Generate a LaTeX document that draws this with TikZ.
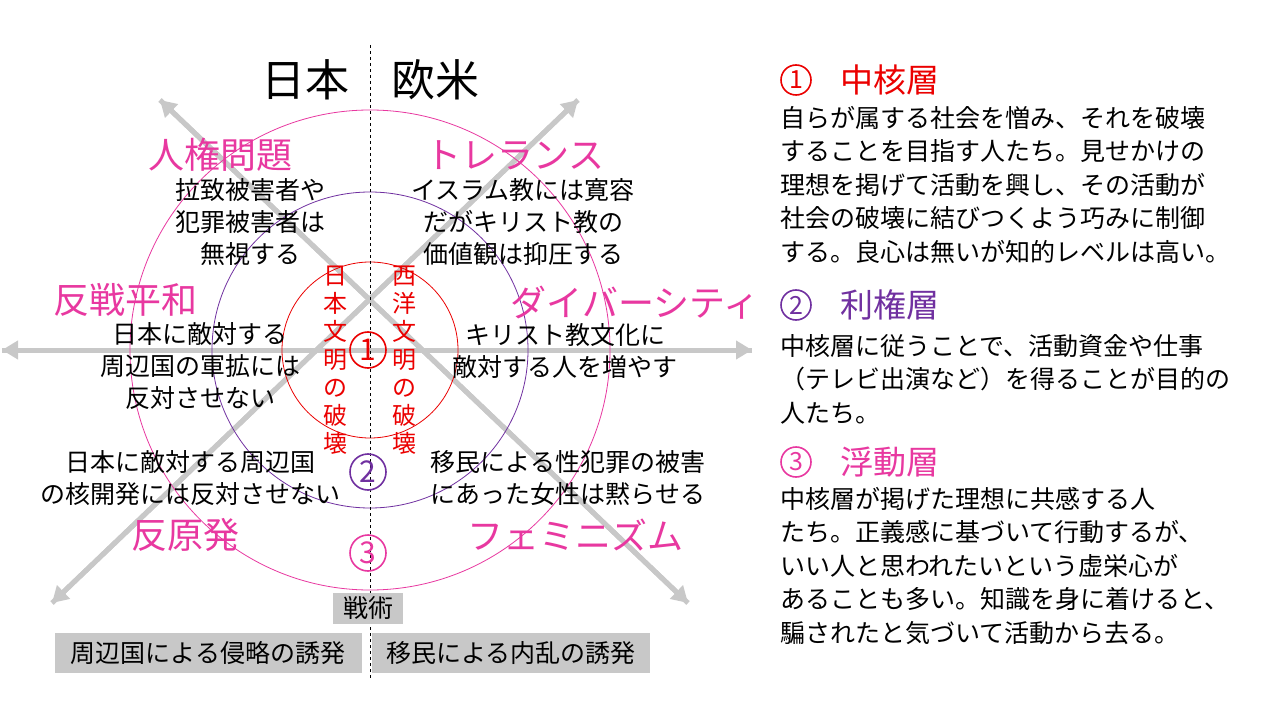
\documentclass[tikz,border=0pt]{standalone}
\usepackage{fontspec}
\setmainfont{Noto Sans CJK JP}
\usetikzlibrary{arrows.meta}
\definecolor{pk}{RGB}{232,56,160}
\definecolor{pu}{RGB}{112,48,160}
\definecolor{rd}{RGB}{235,0,0}
\definecolor{gr}{RGB}{200,200,200}
\tikzset{
 fs/.style 2 args={font=\fontsize{#1}{#2}\selectfont},
 arr/.style={draw=gr,line width=5pt,-{Triangle[length=16pt,width=18pt]}},
 hd/.style={pk,fs={36}{36},inner sep=0},
 bt/.style={fs={25}{32},align=center,inner sep=0,text=black},
 rt/.style={fs={25}{33.5},align=left,anchor=north west,inner sep=0},
 vt/.style={rd,fs={24}{28},align=center,inner sep=0},
 gbox/.style={fill=gr,fs={25}{25},inner sep=0},
 cnum/.style={circle,draw=#1,text=#1,line width=1.6pt,minimum size=36pt,inner sep=0,fs={30}{30}},
 rh/.style={fs={33}{33},anchor=west,inner sep=0},
}
\begin{document}
\begin{tikzpicture}[x=1pt,y=-1pt]
\useasboundingbox (0,0) rectangle (1268,703);
\fill[white] (0,0) rectangle (1268,703);
\coordinate (c) at (370,350);
\coordinate (tl) at (160,100);
\coordinate (tr) at (578,100);
\coordinate (bl) at (52,603);
\coordinate (br) at (688,603);
\coordinate (l) at (2,350);
\coordinate (r) at (752,350);
\draw[arr] (bl) -- (tr);
\draw[arr] (br) -- (tl);
\draw[arr] (l) -- (r);
\draw[arr] (r) -- (l);
\draw[arr] (tr) -- (bl);
\draw[arr] (tl) -- (br);
\draw[pk,line width=0.8pt] (c) circle[radius=240];
\draw[pu,line width=0.8pt] (c) circle[radius=158];
\draw[rd,line width=0.8pt] (c) circle[radius=88];
\draw[dashed,line width=0.8pt] (370,45) -- (370,680);
\node[fs={44}{44},inner sep=0] (jp) at (305,80) {日本};
\node[fs={44}{44},inner sep=0] (ow) at (435,80) {欧米};
\node[hd] (h1) at (220,155) {人権問題};
\node[hd] (h2) at (515,155) {トレランス};
\node[hd] (h3) at (125,300) {反戦平和};
\node[hd] (h4) at (635,303) {ダイバーシティ};
\node[hd] (h5) at (185,535) {反原発};
\node[hd] (h6) at (575,535) {フェミニズム};
\node[bt] (t1) at (250,222) {拉致被害者や\\犯罪被害者は\\無視する};
\node[bt] (t2) at (523,222) {イスラム教には寛容\\だがキリスト教の\\価値観は抑圧する};
\node[bt] (t3) at (200,366) {日本に敵対する\\周辺国の軍拡には\\反対させない};
\node[bt] (t4) at (565,351) {キリスト教文化に\\敵対する人を増やす};
\node[bt] (t5) at (190,478) {日本に敵対する周辺国\\の核開発には反対させない};
\node[bt] (t6) at (568,478) {移民による性犯罪の被害\\にあった女性は黙らせる};
\node[vt] (v1) at (335,360) {日\\本\\文\\明\\の\\破\\壊};
\node[vt] (v2) at (404,360) {西\\洋\\文\\明\\の\\破\\壊};
\node[cnum=rd] (n1) at (368,350) {1};
\node[cnum=pu] (n2) at (368,472) {2};
\node[cnum=pk] (n3) at (368,553) {3};
\node[gbox,minimum width=70,minimum height=31] (s) at (368,608) {戦術};
\node[gbox,minimum width=307,minimum height=40] (b1) at (208,653) {周辺国による侵略の誘発};
\node[gbox,minimum width=278,minimum height=40] (b2) at (511,653) {移民による内乱の誘発};
\node[cnum=rd,minimum size=30pt,fs={25}{25}] (c1) at (796,80) {1};
\node[rh,rd] (r1) at (840,80) {中核層};
\node[rt] (r1t) at (780,106) {自らが属する社会を憎み、それを破壊\\することを目指す人たち。見せかけの\\理想を掲げて活動を興し、その活動が\\社会の破壊に結びつくよう巧みに制御\\する。良心は無いが知的レベルは高い。};
\node[cnum=pu,minimum size=30pt,fs={25}{25}] (c2) at (796,305) {2};
\node[rh,pu] (r2) at (840,305) {利権層};
\node[rt] (r2t) at (780,334) {中核層に従うことで、活動資金や仕事\\（テレビ出演など）を得ることが目的の\\人たち。};
\node[cnum=pk,minimum size=30pt,fs={25}{25}] (c3) at (796,462) {3};
\node[rh,pk] (r3) at (840,462) {浮動層};
\node[rt] (r3t) at (780,487) {中核層が掲げた理想に共感する人\\たち。正義感に基づいて行動するが、\\いい人と思われたいという虚栄心が\\あることも多い。知識を身に着けると、\\騙されたと気づいて活動から去る。};
\end{tikzpicture}
\end{document}
